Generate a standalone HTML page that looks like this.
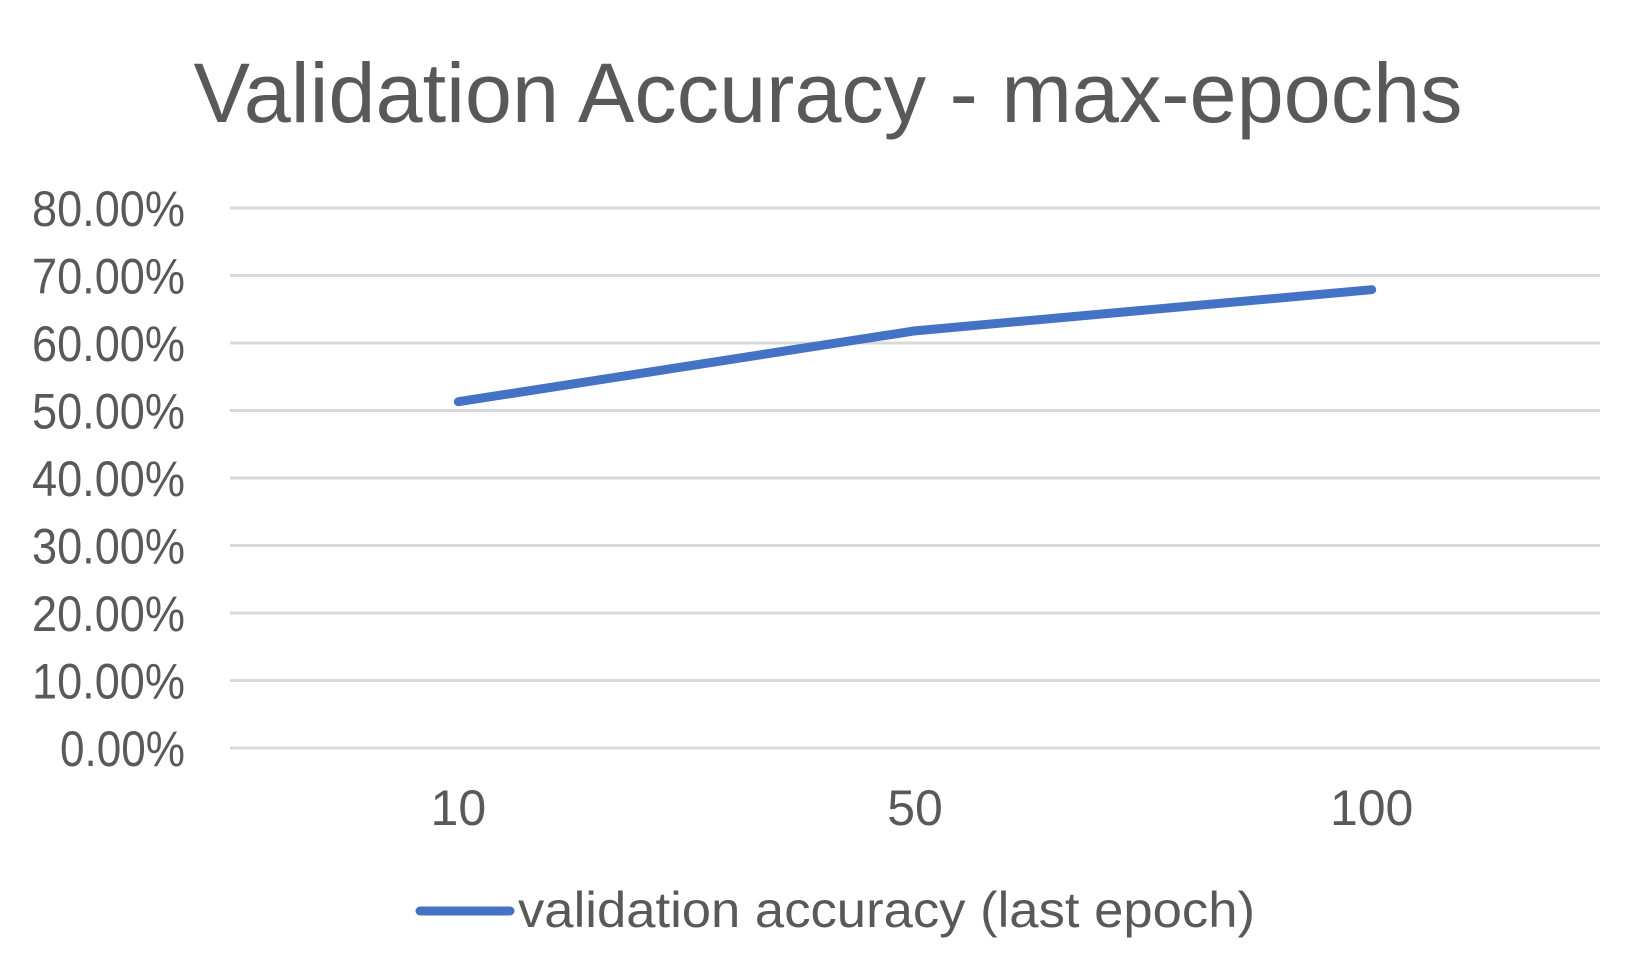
<!DOCTYPE html>
<html><head><meta charset="utf-8"><style>html,body{margin:0;padding:0;background:#fff}svg{display:block}</style></head>
<body>
<svg id="chart" width="1651" height="977" xmlns="http://www.w3.org/2000/svg" font-family="'Liberation Sans', sans-serif" fill="#595959">
<text x="828" y="122" font-size="84" text-anchor="middle" textLength="1269" lengthAdjust="spacingAndGlyphs">Validation Accuracy - max-epochs</text>
<g id="grid"></g><g id="yticks"></g><g id="xticks"></g><g id="series"></g>
<g>
<line x1="420" y1="911" x2="510" y2="911" stroke="#4472C4" stroke-width="9" stroke-linecap="round"/>
<text x="518" y="927" font-size="50" textLength="737" lengthAdjust="spacingAndGlyphs">validation accuracy (last epoch)</text>
</g>
</svg>
<script>
const categories = ["10","50","100"];
const values = [0.513, 0.618, 0.679];
const yTicks = [0,0.1,0.2,0.3,0.4,0.5,0.6,0.7,0.8];
const yTickLabels = ["0.00%","10.00%","20.00%","30.00%","40.00%","50.00%","60.00%","70.00%","80.00%"];
const NS="http://www.w3.org/2000/svg";
const L=230,R=1600,T=208,B=748,yMax=0.8;
const y=v=>B-(v/yMax)*(B-T);
const x=i=>L+(R-L)/categories.length*(i+0.5);
function mk(tag,attrs,parent){const e=document.createElementNS(NS,tag);for(const k in attrs)e.setAttribute(k,attrs[k]);document.getElementById(parent).appendChild(e);return e;}
yTicks.forEach((t,i)=>{
 const g=mk('line',{x1:L,x2:R,y1:y(t),y2:y(t),stroke:'#d9d9d9','stroke-width':3},'grid');
 
 
 const tx=mk('text',{x:185,y:y(t)+18,'font-size':50,'text-anchor':'end',textLength:yTickLabels[i].length>5?153:125,lengthAdjust:'spacingAndGlyphs'},'yticks');
 tx.textContent=yTickLabels[i];
 
 
});
categories.forEach((c,i)=>{
 const tx=mk('text',{x:x(i),y:825,'font-size':50,'text-anchor':'middle'},'xticks');
 tx.textContent=c;
 
 
});
const pl=mk('polyline',{points:values.map((v,i)=>x(i)+','+y(v)).join(' '),fill:'none',stroke:'#4472C4','stroke-width':9,'stroke-linecap':'round','stroke-linejoin':'round'},'series');


</script>
</body></html>
